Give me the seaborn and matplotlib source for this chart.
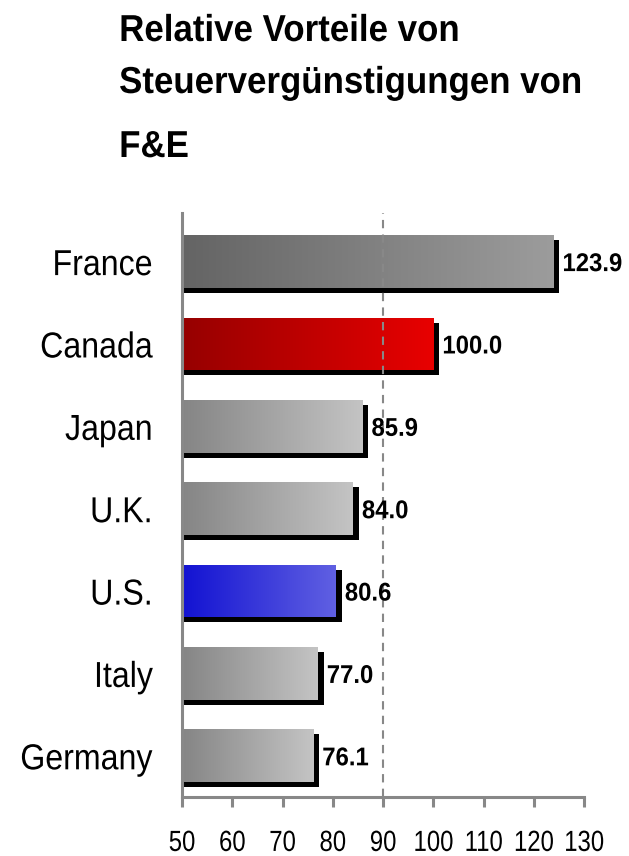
import numpy as np
import pandas as pd
import matplotlib
matplotlib.use("Agg")
import matplotlib.pyplot as plt
import matplotlib.transforms as mtransforms
from matplotlib.patches import Rectangle
from matplotlib.patheffects import AbstractPathEffect
import seaborn as sns

countries = ["France", "Canada", "Japan", "U.K.", "U.S.", "Italy", "Germany"]
values = [123.9, 100.0, 85.9, 84.0, 80.6, 77.0, 76.1]
grad_left = ["#646464", "#960000", "#858585", "#858585", "#1212d2", "#858585", "#858585"]
grad_right = ["#9c9c9c", "#e80000", "#c4c4c4", "#c4c4c4", "#6060e2", "#c4c4c4", "#c4c4c4"]
xticks = [50, 60, 70, 80, 90, 100, 110, 120, 130]
title_lines = ["Relative Vorteile von", "Steuervergünstigungen von", "F&E"]
title_baselines_px = [41, 93, 157]


class Squeeze(AbstractPathEffect):
    """Draw text horizontally condensed (narrow face look)."""

    def __init__(self, sx, anchor="center"):
        super().__init__()
        self._sx = sx
        self._anchor = anchor

    def draw_path(self, renderer, gc, tpath, affine, rgbFace=None):
        ext = tpath.get_extents(affine)
        if self._anchor == "left":
            cx = ext.x0
        elif self._anchor == "right":
            cx = ext.x1
        else:
            cx = 0.5 * (ext.x0 + ext.x1)
        aff = affine + mtransforms.Affine2D().translate(-cx, 0).scale(self._sx, 1).translate(cx, 0)
        renderer.draw_path(gc, tpath, aff, rgbFace)


sns.set_theme(style="white")
plt.rcParams["font.family"] = ["Liberation Sans", "DejaVu Sans"]

df = pd.DataFrame({"country": countries, "value": values})

W, H = 629, 856
fig = plt.figure(figsize=(W / 100, H / 100), dpi=100)
ax = fig.add_axes([182 / W, 59 / H, (584 - 182) / W, (797 - 213) / H])
sns.barplot(data=df, x="value", y="country", orient="h", width=0.64,
            color="#999999", ax=ax, zorder=3)

ax.set_xlim(50, 130)
ax.set_ylim(6.5, -0.59)

shadow_tr = ax.transData + mtransforms.ScaledTranslation(6 / 100, -5 / 100, fig.dpi_scale_trans)
for i, p in enumerate(ax.patches):
    x0, y0 = p.get_x(), p.get_y()
    w, h = p.get_width(), p.get_height()
    p.set_facecolor("none")
    p.set_edgecolor("none")
    sh = Rectangle((x0, y0), w, h, transform=shadow_tr, facecolor="black",
                   edgecolor="none", zorder=2)
    sh.set_clip_path(ax.patch)
    ax.add_patch(sh)
    cmap = matplotlib.colors.LinearSegmentedColormap.from_list(
        f"g{i}", [grad_left[i], grad_right[i]])
    grad = np.linspace(0, 1, 256).reshape(1, -1)
    im = ax.imshow(grad, cmap=cmap, extent=[50, x0 + w, y0 + h, y0],
                   aspect="auto", zorder=3, interpolation="bilinear")
    im.set_clip_path(p)
    t = ax.annotate(f"{values[i]:.1f}", xy=(x0 + w, y0 + h / 2), xytext=(6.5, 0),
                    textcoords="offset points", ha="left", va="center_baseline",
                    fontsize=18.5, fontweight="bold", color="black", zorder=5)
    t.set_path_effects([Squeeze(0.93, "left")])

ax.set_xlim(50, 130)
ax.set_ylim(6.5, -0.59)
ax.axvline(90, color="#888888", lw=1.5, ls=(0, (4, 3)), zorder=4)

ax.set_xticks(xticks)
ax.set_xticklabels([str(t) for t in xticks])
ax.set_xlabel("")
ax.set_ylabel("")
for s in ["top", "right"]:
    ax.spines[s].set_visible(False)
for s in ["left", "bottom"]:
    ax.spines[s].set_color("#888888")
    ax.spines[s].set_linewidth(2.2)
    ax.spines[s].set_zorder(6)
ax.tick_params(axis="x", which="both", bottom=True, length=7, width=2.2,
               color="#888888", labelsize=21, pad=16, labelcolor="black")
ax.tick_params(axis="y", left=False, labelsize=26, pad=15, labelcolor="black")
ax.grid(False)
for lab in ax.get_xticklabels():
    lab.set_path_effects([Squeeze(0.82, "center")])
for lab in ax.get_yticklabels():
    lab.set_path_effects([Squeeze(0.89, "right")])

for line, yb in zip(title_lines, title_baselines_px):
    t = fig.text(119 / W, 1 - yb / H, line, ha="left", va="baseline", fontsize=27,
                 fontweight="bold", color="black")
    t.set_path_effects([Squeeze(0.93, "left")])

fig.savefig("out.png", dpi=100)
